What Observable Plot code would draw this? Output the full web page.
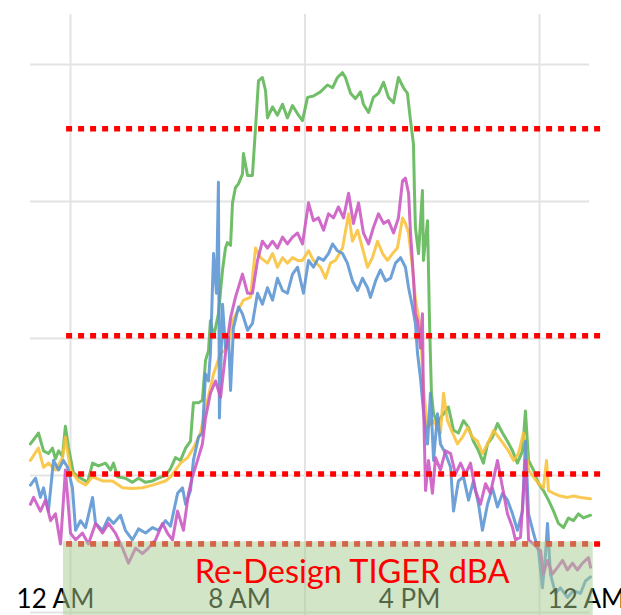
<!DOCTYPE html>
<html>
<head>
<meta charset="utf-8">
<script src="https://cdn.jsdelivr.net/npm/d3@7"></script>
<script src="https://cdn.jsdelivr.net/npm/@observablehq/plot@0.6"></script>
<style>
  html, body { margin: 0; padding: 0; background: #fff; }
  svg { display: block; }
  g[aria-label="line"] { filter: blur(0.45px); }
</style>
</head>
<body>
<div id="chart"></div>
<script>
// ---- Data (hours from midnight, dBA) ----
const green = [[-2.05,52.3],[-1.64,53.1],[-1.38,51.8],[-1.13,51.6],[-0.92,52.0],[-0.77,51.2],[-0.61,51.8],[-0.41,51.4],[-0.26,53.6],[-0.10,52.0],[0.15,50.2],[0.41,49.9],[0.87,49.5],[1.13,50.9],[1.43,50.7],[1.79,50.9],[2.05,50.4],[2.20,50.9],[2.41,49.9],[2.81,49.8],[3.17,49.5],[3.48,49.8],[3.84,49.5],[4.20,49.6],[4.50,49.8],[4.86,50.0],[5.12,50.5],[5.37,51.3],[5.63,51.1],[5.89,52.0],[6.14,52.5],[6.29,55.3],[6.55,55.3],[6.75,55.5],[6.91,58.4],[7.06,59.1],[7.16,61.3],[7.32,60.1],[7.57,61.8],[7.78,65.0],[7.93,66.6],[8.03,67.0],[8.19,66.8],[8.29,69.9],[8.44,71.0],[8.60,71.3],[8.80,72.0],[8.85,73.5],[9.06,71.9],[9.31,71.9],[9.47,75.4],[9.62,78.8],[9.82,79.05],[9.98,78.1],[10.08,76.1],[10.34,76.9],[10.59,76.3],[10.85,77.1],[11.10,76.1],[11.36,77.0],[11.62,76.4],[11.87,75.9],[12.13,77.6],[12.43,77.7],[12.79,78.0],[13.15,78.5],[13.41,78.3],[13.66,79.05],[13.92,79.4],[14.07,79.05],[14.33,77.9],[14.58,77.5],[14.84,78.0],[14.99,77.1],[15.25,76.5],[15.50,77.6],[15.76,77.9],[16.02,78.7],[16.27,77.6],[16.53,77.2],[16.78,79.05],[17.04,78.3],[17.24,77.9],[17.40,75.9],[17.55,74.2],[17.60,70.8],[17.65,68.1],[17.81,66.2],[18.01,70.8],[18.06,65.7],[18.27,68.6],[18.37,61.3],[18.47,56.0],[18.58,54.5],[18.78,53.8],[18.93,54.2],[19.09,54.5],[19.34,55.0],[19.60,53.3],[19.85,53.1],[20.11,54.0],[20.37,53.5],[20.62,52.5],[20.88,51.8],[21.13,50.9],[21.34,52.3],[21.59,52.8],[21.85,53.8],[22.11,53.1],[22.36,52.5],[22.62,51.8],[22.87,50.9],[23.13,51.8],[23.28,54.7],[23.44,51.1],[23.69,50.4],[23.95,49.4],[24.20,48.9],[24.46,48.2],[24.72,47.4],[24.97,46.5],[25.23,46.2],[25.48,46.9],[25.74,46.7],[25.99,47.2],[26.25,46.9],[26.61,47.1]];

const yellow = [[-2.05,51.1],[-1.64,52.0],[-1.38,50.6],[-1.13,50.9],[-0.77,50.4],[-0.41,51.3],[-0.26,52.8],[0,50.4],[0.41,49.6],[0.77,49.3],[1.13,49.9],[1.64,49.6],[2.15,49.6],[2.66,49.1],[3.17,49.05],[3.68,49.1],[4.20,49.3],[4.86,49.6],[5.12,49.9],[5.63,50.9],[5.99,51.3],[6.29,52.0],[6.65,53.1],[7.01,55.5],[7.32,57.4],[7.68,58.9],[8.03,59.3],[8.29,61.3],[8.55,62.0],[8.85,62.8],[9.21,63.0],[9.47,66.6],[9.72,65.9],[10.08,65.5],[10.34,66.2],[10.59,65.2],[10.85,65.9],[11.10,65.5],[11.36,65.9],[11.62,65.7],[11.87,65.7],[12.18,66.4],[12.43,65.7],[12.79,65.2],[13.05,64.4],[13.30,65.5],[13.56,65.7],[13.92,66.6],[14.23,69.1],[14.43,67.1],[14.69,67.9],[14.94,66.6],[15.20,65.2],[15.45,65.9],[15.71,67.1],[15.97,66.2],[16.22,65.7],[16.48,66.2],[16.73,66.6],[16.99,68.8],[17.14,68.4],[17.30,67.7],[17.50,65.2],[17.65,62.8],[17.91,60.8],[18.06,56.4],[18.27,53.5],[18.58,54.0],[18.93,53.1],[19.09,56.0],[19.29,54.0],[19.55,53.1],[19.80,52.3],[20.06,52.8],[20.32,53.5],[20.57,52.8],[20.83,52.5],[21.08,51.6],[21.34,52.3],[21.65,53.3],[21.90,52.8],[22.16,52.3],[22.41,51.8],[22.67,51.1],[22.92,51.6],[23.18,53.1],[23.44,50.4],[23.69,49.9],[23.95,49.4],[24.20,49.1],[24.36,51.1],[24.46,48.9],[24.72,48.7],[25.07,48.5],[25.43,48.4],[25.74,48.5],[26.10,48.4],[26.61,48.3]];

const blue = [[-2.05,49.3],[-1.79,49.8],[-1.54,48.4],[-1.38,49.1],[-1.13,47.4],[-0.87,51.1],[-0.61,50.4],[-0.36,51.1],[-0.15,50.6],[0.10,49.1],[0.26,46.0],[0.51,46.7],[0.77,46.2],[1.13,48.4],[1.28,46.5],[1.64,46.0],[1.94,46.9],[2.20,46.5],[2.56,47.1],[2.81,46.0],[3.17,45.3],[3.48,46.1],[3.84,45.8],[4.20,46.2],[4.50,46.0],[4.86,46.7],[5.12,46.3],[5.48,48.7],[5.73,49.1],[5.89,47.9],[6.14,48.9],[6.29,51.1],[6.55,52.8],[6.75,53.1],[6.91,57.4],[7.06,56.9],[7.16,58.9],[7.32,66.2],[7.47,63.3],[7.57,71.4],[7.62,54.2],[7.78,62.5],[7.93,59.3],[8.09,60.1],[8.19,56.2],[8.34,60.8],[8.60,62.3],[8.80,61.8],[9.06,60.6],[9.31,61.1],[9.57,63.3],[9.82,62.5],[10.08,63.7],[10.34,62.8],[10.59,64.4],[10.85,63.5],[11.10,63.3],[11.36,64.7],[11.62,65.2],[11.92,63.3],[12.18,65.7],[12.43,65.2],[12.69,65.9],[12.95,65.7],[13.20,66.2],[13.41,66.9],[13.66,66.4],[13.92,66.2],[14.17,65.5],[14.43,64.2],[14.69,63.5],[14.94,64.4],[15.20,63.7],[15.35,63.0],[15.61,64.2],[15.86,65.0],[16.12,64.2],[16.38,64.4],[16.63,65.5],[16.89,65.9],[17.14,65.2],[17.30,63.7],[17.50,62.3],[17.65,61.1],[17.76,58.9],[17.91,57.1],[18.06,54.7],[18.27,52.3],[18.42,56.0],[18.58,51.1],[18.78,54.5],[18.93,52.3],[19.19,51.6],[19.45,50.6],[19.60,47.4],[19.85,49.6],[20.11,49.9],[20.37,48.2],[20.62,49.6],[20.88,47.9],[21.08,46.0],[21.34,47.9],[21.59,49.1],[21.85,47.7],[22.11,48.7],[22.36,48.2],[22.62,47.2],[22.87,46.0],[23.13,47.4],[23.28,52.5],[23.44,47.2],[23.69,45.8],[23.95,44.5],[24.15,41.8],[24.31,44.3],[24.41,46.5],[24.56,42.8],[24.82,41.4],[25.07,41.8],[25.43,41.1],[25.74,41.6],[26.10,41.4],[26.35,42.3],[26.61,42.6]];

const magenta = [[-2.05,47.9],[-1.89,48.4],[-1.54,47.4],[-1.28,48.2],[-1.02,46.7],[-0.77,47.2],[-0.51,45.0],[-0.26,50.4],[0,45.8],[0.26,45.3],[0.61,45.8],[0.92,45.0],[1.28,46.5],[1.64,45.8],[1.94,46.5],[2.30,45.8],[2.66,44.7],[2.97,43.6],[3.33,44.7],[3.68,44.3],[3.99,44.7],[4.35,45.3],[4.71,46.5],[4.96,45.8],[5.22,45.3],[5.48,47.4],[5.78,46.0],[6.04,48.7],[6.24,49.9],[6.50,51.1],[6.75,52.3],[6.91,54.2],[7.16,56.0],[7.42,56.9],[7.68,55.7],[7.93,58.9],[8.19,61.5],[8.44,63.0],[8.80,64.7],[9.06,63.3],[9.31,63.3],[9.57,65.7],[9.82,67.1],[10.08,66.6],[10.34,67.1],[10.59,66.6],[10.85,67.4],[11.10,66.9],[11.36,67.4],[11.62,67.7],[11.87,66.9],[12.18,69.9],[12.43,68.6],[12.69,68.8],[12.95,67.9],[13.20,69.1],[13.46,68.8],[13.71,69.6],[13.97,68.8],[14.23,70.6],[14.48,68.4],[14.74,69.9],[14.99,67.7],[15.25,66.9],[15.50,68.1],[15.76,69.1],[16.02,68.4],[16.27,68.6],[16.53,67.7],[16.78,68.8],[16.99,71.5],[17.14,71.7],[17.30,70.6],[17.40,67.7],[17.55,64.4],[17.65,61.8],[17.76,61.3],[17.91,59.3],[18.01,61.8],[18.06,55.5],[18.17,48.9],[18.32,51.1],[18.52,48.7],[18.68,51.3],[18.93,50.4],[19.19,51.8],[19.45,51.6],[19.70,50.1],[19.96,50.9],[20.21,50.1],[20.47,50.9],[20.72,48.9],[20.98,47.9],[21.24,49.4],[21.49,48.7],[21.85,51.1],[22.11,49.1],[22.36,47.2],[22.62,46.2],[22.77,45.3],[23.03,45.5],[23.28,51.1],[23.44,45.3],[23.69,45.0],[24.06,44.5],[24.20,42.8],[24.41,43.8],[24.66,42.8],[24.92,43.3],[25.18,43.8],[25.43,43.1],[25.69,43.6],[25.94,43.1],[26.20,43.6],[26.51,44.0],[26.61,43.3]];

const seriesNames = ["Series G", "Series Y", "Series B", "Series M"];
const seriesColors = ["#5cb553", "#f9c23a", "#5a94d2", "#c956c2"];
const seriesData = [green, yellow, blue, magenta];

const gridHoursX = [0, 12, 24];          // vertical gridlines
const gridLevelsY = [40, 50, 60, 70, 80]; // horizontal gridlines (dBA)
const limitLevels = [75.3, 60.2, 50.1, 45.0]; // red dotted thresholds (dBA)

const tickLabels = ["12 AM", "8 AM", "4 PM", "12 AM"];
const tickHours = [-0.77, 8.65, 17.35, 26.4];

const bandLabel = "Re-Design TIGER dBA";
const band = [{x1: -0.36, x2: 26.75, y1: 45.15, y2: 39.78}];

// ---- Build table ----
const rows = seriesData.flatMap((arr, i) =>
  arr.map(([t, v]) => ({series: seriesNames[i], t, v})));

const chart = Plot.plot({
  width: 621,
  height: 615,
  margin: 0,
  x: {domain: [-3.582, 28.196], axis: null},
  y: {domain: [39.78, 84.67], axis: null},
  color: {type: "ordinal", domain: seriesNames, range: seriesColors},
  marks: [
    Plot.ruleY(gridLevelsY, {x1: -2.05, x2: 26.56, stroke: "#e3e3e3", strokeWidth: 2}),
    Plot.ruleX(gridHoursX, {y1: 83.65, y2: 39.78, stroke: "#e3e3e3", strokeWidth: 2}),
    Plot.line(rows, {x: "t", y: "v", z: "series", stroke: "series", strokeWidth: 3, strokeOpacity: 0.88, strokeLinejoin: "round"}),
    Plot.ruleY(limitLevels, {x1: -0.2, x2: 27.2, stroke: "#ff0000", strokeWidth: 5.5, strokeDasharray: "6,6"}),
    Plot.text(tickLabels, {x: (d, i) => tickHours[i], y: 40.36, text: d => d, lineAnchor: "bottom", textAnchor: "middle", fontSize: 26, fontFamily: "Lato", fill: "#000"}),
    Plot.rect(band, {x1: "x1", x2: "x2", y1: "y1", y2: "y2", fill: "#a6cb8e", fillOpacity: 0.5}),
    Plot.text([bandLabel], {x: 14.41, y: 42.18, text: d => d, lineAnchor: "bottom", textAnchor: "middle", fontSize: 32.5, fontFamily: "Lato", fill: "#ff0000"})
  ]
});
document.getElementById("chart").appendChild(chart);
</script>
</body>
</html>
